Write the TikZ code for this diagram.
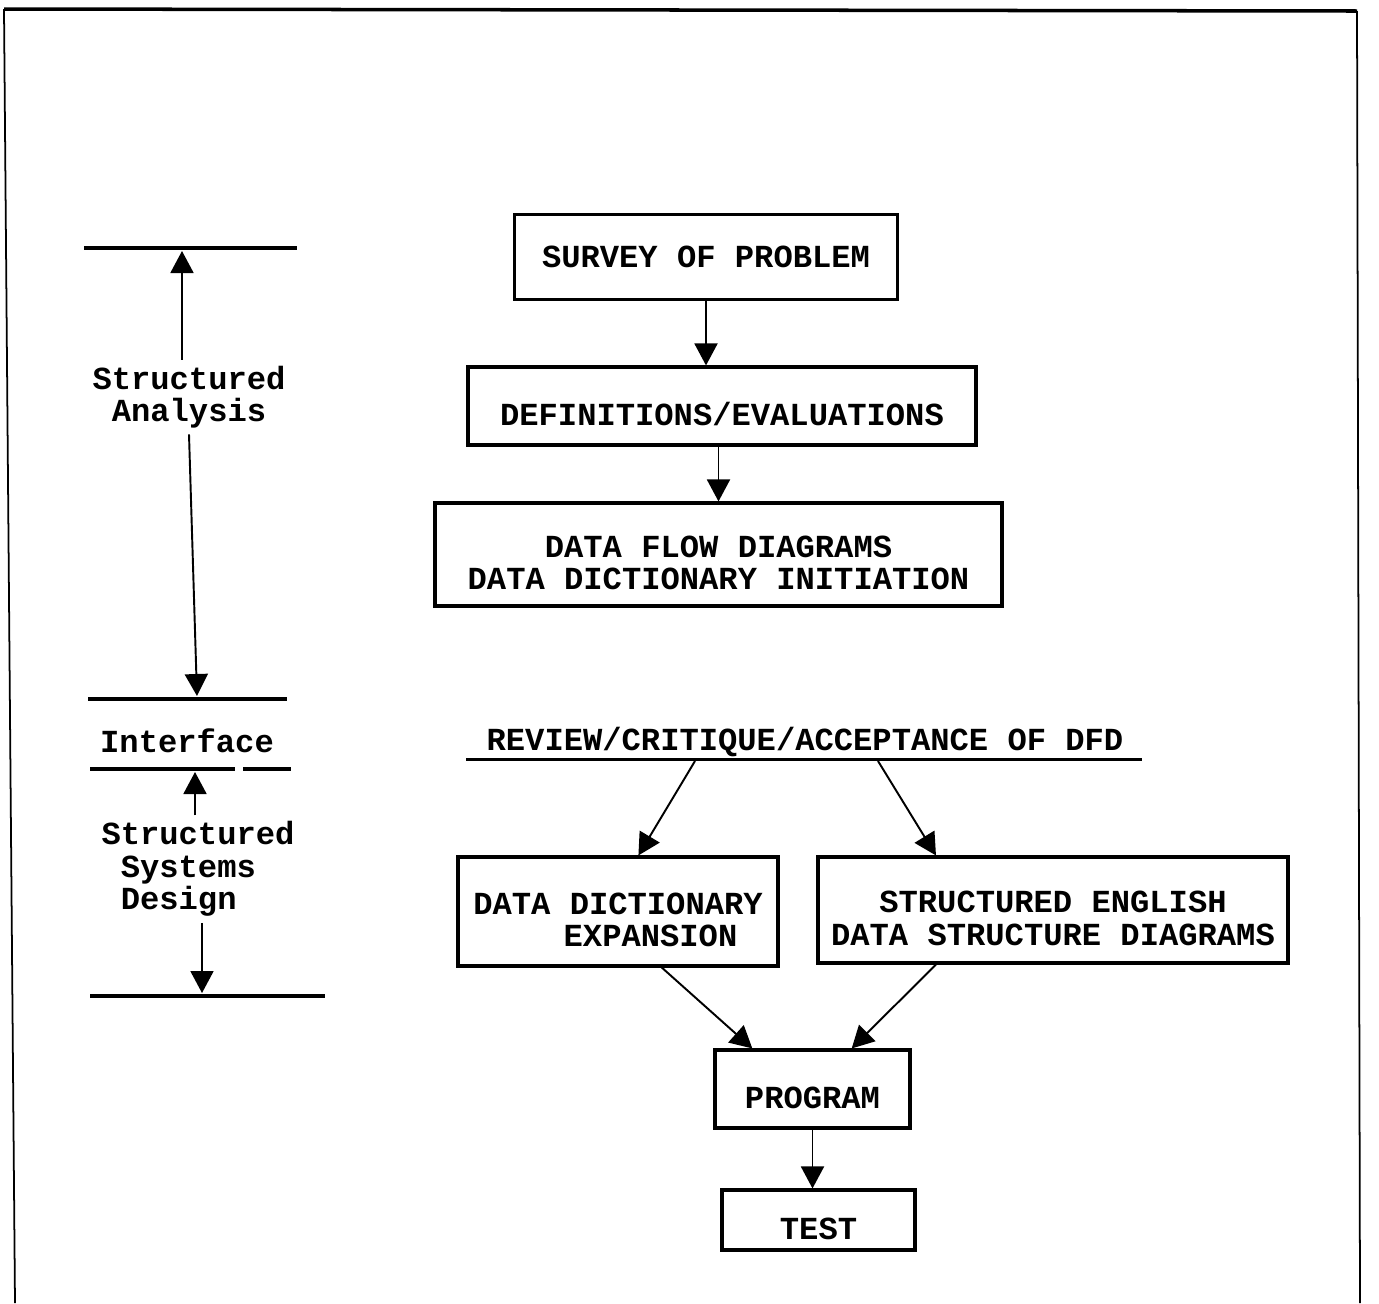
\documentclass[tikz,border=0pt]{standalone}
\usepackage{fontspec}
\newfontfamily\typewr{Liberation Mono}
\usetikzlibrary{arrows.meta}

\def\drop{\rule{0pt}{22pt}}

\begin{document}
\begin{tikzpicture}[x=0.02cm,y=-0.02cm,
    font=\typewr\bfseries\fontsize{18.3}{18.5}\selectfont,
    box/.style={draw,line width=1.8pt,inner sep=0pt,align=center},
    flow/.style={-{Triangle[length=0.44cm,width=0.46cm]},line width=1.1pt},
    rule/.style={line width=2.2pt}]
  \useasboundingbox (0,0) rectangle (1379,1303);

  % frame
  \draw[line width=2pt] (4,9) -- (1357,11);
  \draw[line width=1pt] (4,9) -- (15,1303);
  \draw[line width=1pt] (1357,11) -- (1360,1303);

  % phases on the left
  \node[align=left] (sa) at (189,397) {Structured\\\hspace*{.6em}Analysis};
  \node (iface) at (187,741) {Interface};
  \node[align=left] (ssd) at (198,869) {Structured\\\hspace*{.6em}Systems\\\hspace*{.6em}Design};

  \draw[rule] (84,248) -- (297,248);
  \draw[rule] (88,699) -- (287,699);
  \draw[rule] (90,769) -- (235,769);
  \draw[rule] (243,769) -- (291,769);
  \draw[rule] (90,996) -- (325,996);

  \coordinate (saTop) at (182,251);
  \coordinate (saBot) at (197,696);
  \coordinate (ssdTop) at (195,772);
  \coordinate (ssdBot) at (202,993);

  \draw[flow] (sa.north -| saTop) -- (saTop);
  \draw[flow] (sa.south) -- (saBot);
  \draw[flow] (ssd.north -| ssdTop) -- (ssdTop);
  \draw[flow] (ssd.south -| ssdBot) -- (ssdBot);

  % steps
  \def \Boxes {
    survey/706/257/7.66/1.70/{SURVEY OF PROBLEM},
    defs/722/406/10.16/1.56/{\drop DEFINITIONS/EVALUATIONS},
    dfd/718.5/554.5/11.34/2.06/{\drop DATA FLOW DIAGRAMS\\DATA DICTIONARY INITIATION},
    ddexp/618/911.5/6.4/2.18/{\drop DATA DICTIONARY\\\hspace*{1.3cm}EXPANSION},
    sed/1053/910/9.4/2.12/{\drop STRUCTURED ENGLISH\\DATA STRUCTURE DIAGRAMS},
    program/812.5/1089/3.9/1.56/{\drop PROGRAM},
    test/818.5/1220/3.86/1.2/{\drop TEST}}

  \foreach \id / \x / \y / \w / \h / \t in \Boxes {
    \node[box,minimum width=\w cm,minimum height=\h cm] (\id) at (\x,\y) {\t};
  }

  \node (review) at (805,742) {REVIEW/CRITIQUE/ACCEPTANCE OF DFD};
  \coordinate (rvL) at (466,759);
  \coordinate (rvR) at (1142,759);
  \coordinate (rvA) at (695,761);
  \coordinate (rvB) at (878,761);
  \draw[line width=1.7pt] (rvL) -- (rvR);

  \def \Edges {
    survey.south/survey.south |- defs.north,
    dfd.north |- defs.south/dfd.north,
    rvA/ddexp.70,
    rvB/sed.155,
    ddexp.-52/program.146,
    sed.205/program.46,
    program.south/program.south |- test.north}

  \foreach \a / \b in \Edges {
    \draw[flow] (\a) -- (\b);
  }
\end{tikzpicture}
\end{document}
